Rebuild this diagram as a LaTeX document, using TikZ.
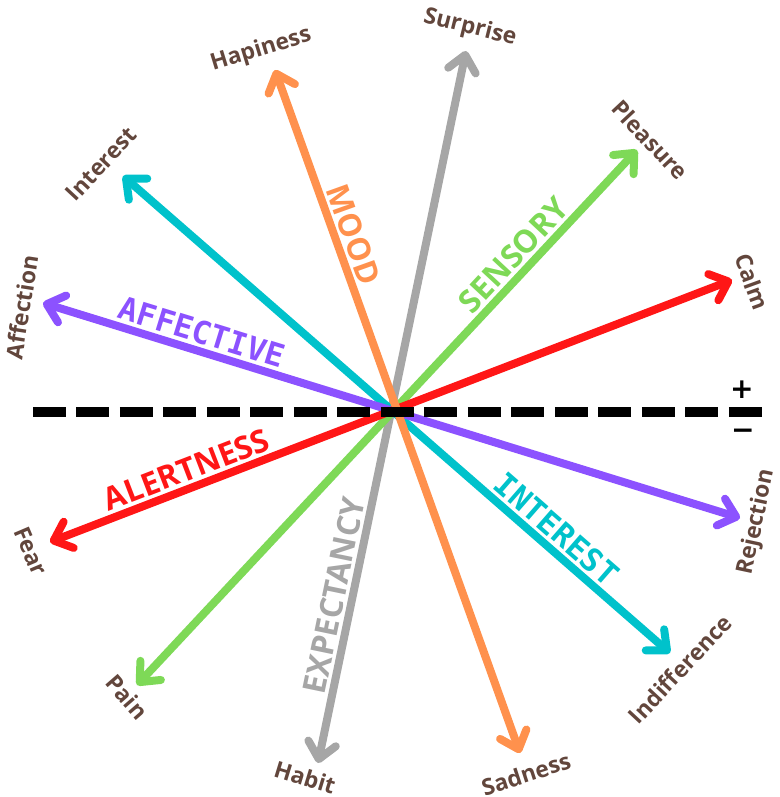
\documentclass[tikz,border=0pt]{standalone}
\usepackage{fontspec}
\setmainfont{Open Sans}
\newfontfamily\axismono{DejaVu Sans Mono}
\newfontfamily\signfont{DejaVu Sans}
\usetikzlibrary{arrows.meta}
\definecolor{moodorange}{RGB}{255,145,77}
\definecolor{expgray}{RGB}{166,166,166}
\definecolor{sensgreen}{RGB}{126,217,87}
\definecolor{alertred}{RGB}{255,22,22}
\definecolor{affpurple}{RGB}{140,82,255}
\definecolor{intcyan}{RGB}{0,194,203}
\definecolor{polebrown}{RGB}{98,70,60}

\begin{document}
\begin{tikzpicture}[
    x=0.02cm, y=-0.02cm,
    axis/.style={line width=0.16cm, {Straight Barb[length=0.32cm, width=0.56cm, round]}-{Straight Barb[length=0.32cm, width=0.56cm, round]}},
    divider/.style={line width=0.2cm, dash pattern=on 0.66cm off 0.21cm},
    pole/.style={text=polebrown, inner sep=0pt, font=\bfseries\fontsize{13}{15}\selectfont},
    dim/.style={sloped, above=0.06cm, inner sep=0pt, font=\bfseries\fontsize{18}{20}\selectfont},
    dimmono/.style={dim, font=\axismono\bfseries\fontsize{18}{20}\selectfont},
    sign/.style={inner sep=0pt, font=\signfont\bfseries\fontsize{16}{18}\selectfont}
]
    \useasboundingbox (0,0) rectangle (779,797);

    % arrow tips
    \coordinate (surprise-tip) at (466,51);
    \coordinate (habit-tip) at (318,763);
    \coordinate (hapiness-tip) at (275,70);
    \coordinate (sadness-tip) at (520,753);
    \coordinate (interest-tip) at (123,176);
    \coordinate (indifference-tip) at (670,653);
    \coordinate (affection-tip) at (43,303);
    \coordinate (rejection-tip) at (740,518);
    \coordinate (pleasure-tip) at (637,150);
    \coordinate (pain-tip) at (137,685);
    \coordinate (calm-tip) at (732,280);
    \coordinate (fear-tip) at (50,542);
    \coordinate (divider-left) at (33,412);
    \coordinate (divider-right) at (762,412);

    \draw[axis, expgray] (habit-tip) -- node[dim, pos=0.23] {EXPECTANCY} (surprise-tip);
    \draw[axis, intcyan] (interest-tip) -- node[dimmono, pos=0.77] {INTEREST} (indifference-tip);
    \draw[axis, sensgreen] (pain-tip) -- node[dim, pos=0.78] {SENSORY} (pleasure-tip);
    \draw[axis, affpurple] (affection-tip) -- node[dimmono, pos=0.22] {AFFECTIVE} (rejection-tip);
    \draw[axis, alertred] (fear-tip) -- node[dim, pos=0.21] {ALERTNESS} (calm-tip);
    \draw[axis, moodorange] (hapiness-tip) -- node[dim, pos=0.25] {MOOD} (sadness-tip);

    \draw[divider] (divider-left) -- (divider-right);
    \node[sign] (plus) at (742,390) {+};
    \node[sign] (minus) at (743,434) {−};

    \node[pole, rotate=-14] (surprise) at (470,28) {Surprise};
    \node[pole, rotate=17] (hapiness) at (261,50) {Hapiness};
    \node[pole, rotate=47] (interest) at (101,164) {Interest};
    \node[pole, rotate=81] (affection) at (22,307) {Affection};
    \node[pole, rotate=-47] (pleasure) at (650,140) {Pleasure};
    \node[pole, rotate=-70] (calm) at (752,282) {Calm};
    \node[pole, rotate=-67] (fear) at (31,551) {Fear};
    \node[pole, rotate=-49] (pain) at (127,697) {Pain};
    \node[pole, rotate=-17] (habit) at (305,777) {Habit};
    \node[pole, rotate=18] (sadness) at (526,774) {Sadness};
    \node[pole, rotate=47] (indifference) at (680,669) {Indifference};
    \node[pole, rotate=78] (rejection) at (757,522) {Rejection};
\end{tikzpicture}
\end{document}
